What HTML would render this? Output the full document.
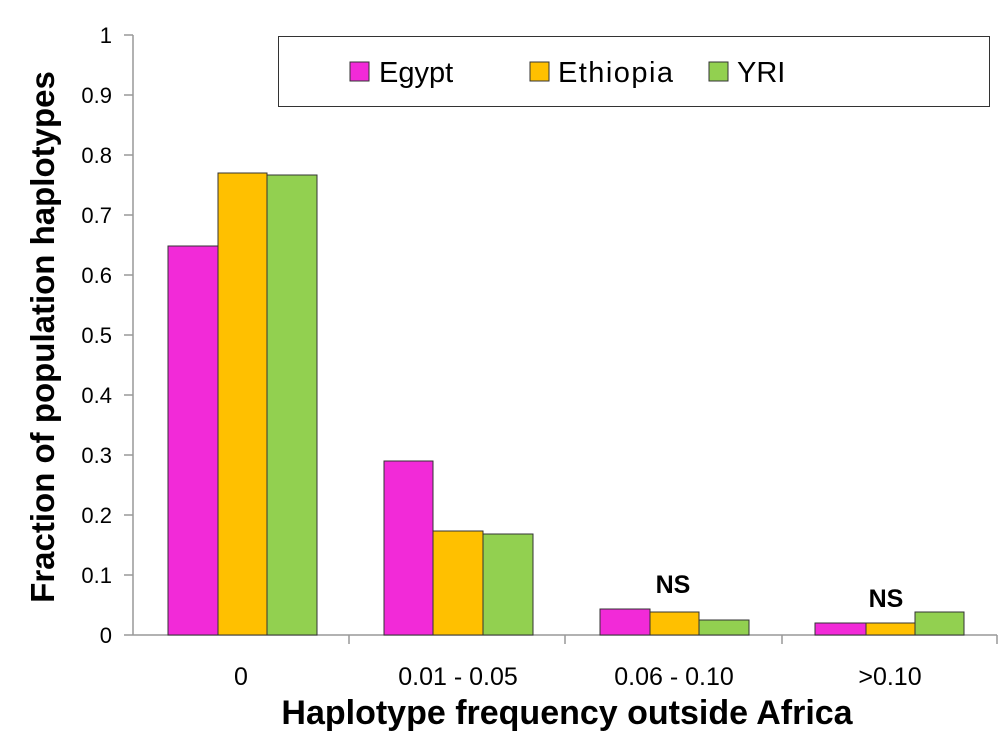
<!DOCTYPE html><html><head><style>body{margin:0;background:#fff}</style></head><body>
<svg width="1000" height="751" xmlns="http://www.w3.org/2000/svg" font-family="Liberation Sans, sans-serif">
<rect width="1000" height="751" fill="#fff"/>
<g stroke="#999" stroke-width="1.5">
<line x1="133" y1="35" x2="133" y2="635"/>
<line x1="133" y1="635" x2="997" y2="635"/>
<line x1="124" y1="35" x2="133" y2="35"/><line x1="124" y1="95" x2="133" y2="95"/><line x1="124" y1="155" x2="133" y2="155"/><line x1="124" y1="215" x2="133" y2="215"/><line x1="124" y1="275" x2="133" y2="275"/><line x1="124" y1="335" x2="133" y2="335"/><line x1="124" y1="395" x2="133" y2="395"/><line x1="124" y1="455" x2="133" y2="455"/><line x1="124" y1="515" x2="133" y2="515"/><line x1="124" y1="575" x2="133" y2="575"/><line x1="124" y1="635" x2="133" y2="635"/>
<line x1="349" y1="635" x2="349" y2="644"/><line x1="565" y1="635" x2="565" y2="644"/><line x1="782" y1="635" x2="782" y2="644"/><line x1="997" y1="635" x2="997" y2="644"/>
</g>
<g font-size="22" text-anchor="end" fill="#000">
<text x="112" y="43">1</text><text x="112" y="103">0.9</text><text x="112" y="163">0.8</text><text x="112" y="223">0.7</text><text x="112" y="283">0.6</text><text x="112" y="343">0.5</text><text x="112" y="403">0.4</text><text x="112" y="463">0.3</text><text x="112" y="523">0.2</text><text x="112" y="583">0.1</text><text x="112" y="643">0</text>
</g>
<g stroke="#333" stroke-width="1">
<rect x="168" y="246" width="50" height="389" fill="#f22ad8"/>
<rect x="218" y="173" width="49" height="462" fill="#ffc000"/>
<rect x="267" y="175" width="50" height="460" fill="#92d050"/>
<rect x="384" y="461" width="49" height="174" fill="#f22ad8"/>
<rect x="433" y="531" width="50" height="104" fill="#ffc000"/>
<rect x="483" y="534" width="50" height="101" fill="#92d050"/>
<rect x="600" y="609" width="50" height="26" fill="#f22ad8"/>
<rect x="650" y="612" width="49" height="23" fill="#ffc000"/>
<rect x="699" y="620" width="50" height="15" fill="#92d050"/>
<rect x="815" y="623" width="51" height="12" fill="#f22ad8"/>
<rect x="866" y="623" width="49" height="12" fill="#ffc000"/>
<rect x="915" y="612" width="49" height="23" fill="#92d050"/>
</g>
<g font-size="25" text-anchor="middle">
<text x="241" y="685">0</text><text x="458" y="685">0.01 - 0.05</text><text x="674" y="685">0.06 - 0.10</text><text x="890" y="685">&gt;0.10</text>
</g>
<g font-size="25" font-weight="bold" text-anchor="middle">
<text x="673" y="593">NS</text><text x="886" y="607">NS</text>
</g>
<text x="567" y="724" font-size="34" font-weight="bold" text-anchor="middle">Haplotype frequency outside Africa</text>
<text transform="translate(54,337) rotate(-90)" font-size="33" font-weight="bold" text-anchor="middle">Fraction of population haplotypes</text>
<rect x="278.5" y="36.5" width="711" height="70" fill="#fff" stroke="#333" stroke-width="1"/>
<g stroke="#333" stroke-width="1">
<rect x="350" y="62" width="19" height="19" fill="#f22ad8"/>
<rect x="530" y="62" width="19" height="19" fill="#ffc000"/>
<rect x="709" y="62" width="19" height="19" fill="#92d050"/>
</g>
<g font-size="29">
<text x="379" y="82">Egypt</text><text x="558" y="82" textLength="115">Ethiopia</text><text x="737" y="82">YRI</text>
</g>
</svg>
</body></html>
